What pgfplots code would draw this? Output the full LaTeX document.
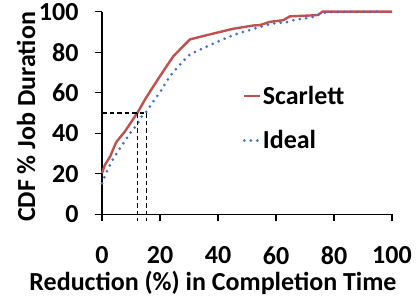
\documentclass[border=0pt]{standalone}
\usepackage{fontspec}
\setmainfont{Carlito}
\usepackage{pgfplots}
\pgfplotsset{compat=1.18}
\definecolor{sred}{RGB}{192,80,77}
\definecolor{iblue}{RGB}{68,114,196}
\begin{document}
\begin{tikzpicture}[font=\fontsize{26}{30}\selectfont\bfseries]
\useasboundingbox (0,0) rectangle (417pt,300pt);
\begin{axis}[
 at={(102pt,85.7pt)}, anchor=south west, scale only axis, width=290pt, height=202.6pt,
 xmin=0,xmax=100,ymin=0,ymax=100,
 axis x line=bottom, axis y line=left, axis line style={-, line width=1.3pt, black},
 xtick={0,20,...,100}, ytick={0,20,...,100},
 tick align=outside, major tick length=7pt, tick style={line width=1.3pt, black},
 /pgf/number format/assume math mode=true,
 ticklabel style={font=\fontsize{26}{30}\selectfont\bfseries},
 xticklabel style={yshift=-22pt},
 yticklabel style={xshift=-13pt},
 clip=false,
 legend style={draw=none, fill=none, at={(axis cs:48.5,64)}, anchor=north west, inner sep=0pt,
   row sep=23pt, font=\fontsize{26}{30}\selectfont\bfseries, nodes={inner sep=1pt}},
 legend cell align=left,
 legend image code/.code={\draw[#1] (0pt,0pt) -- (16pt,0pt);},
]
\addplot[sred, line width=2.4pt] coordinates {
(0,20.3)(1,24.4)(2.8,28.5)(4.5,34.3)(5.1,36)(7.9,40.9)(10.2,45.8)(12.3,50.3)(14.8,56.6)(16.6,60.7)
(21.1,70.6)(24.6,78)(28,83)(30.3,86.3)(33.8,87.6)(39.5,89.6)(45.3,91.6)(52.2,93.2)(54.5,93.4)
(57.9,95)(62.5,95.8)(64.8,97.7)(72.9,98.2)(74.5,98.4)(76,100)(100,100)};
\addlegendentry{Scarlett}
\addplot[iblue, line width=3pt, dash pattern=on 0pt off 6.5pt, line cap=round] coordinates {
(0,15.3)(1.6,21.1)(3.3,26)(5.1,30.2)(7.4,35.1)(9.7,40.1)(12,44.2)(13.7,48.3)(15.4,50.8)(17.7,55.7)
(20.3,61)(23.4,68.1)(26.9,73.9)(30.3,78.9)(33.8,81.3)(39.5,85)(45.3,88.5)(51,91)(54.5,92.5)
(59,94.2)(63.7,94.8)(66,95.8)(72.3,97.2)(74.6,98.6)(76.3,99.4)(79,99.8)(95.5,100)};
\addlegendentry{Ideal}
\addplot[black, line width=1.4pt, dash pattern=on 4.5pt off 3pt, forget plot] coordinates {(0,50)(15.4,50)};
\addplot[black, line width=1.4pt, dash pattern=on 4.5pt off 3pt, forget plot] coordinates {(12.3,50)(12.3,-3.5)};
\addplot[black, line width=1.4pt, dash pattern=on 4.5pt off 3pt, forget plot] coordinates {(15.4,50)(15.4,-3.5)};
\end{axis}
\node at (26pt,183pt) [rotate=90] {CDF \% Job Duration};
\node at (213pt,17pt) {Reduction (\%) in Completion Time};
\end{tikzpicture}
\end{document}
